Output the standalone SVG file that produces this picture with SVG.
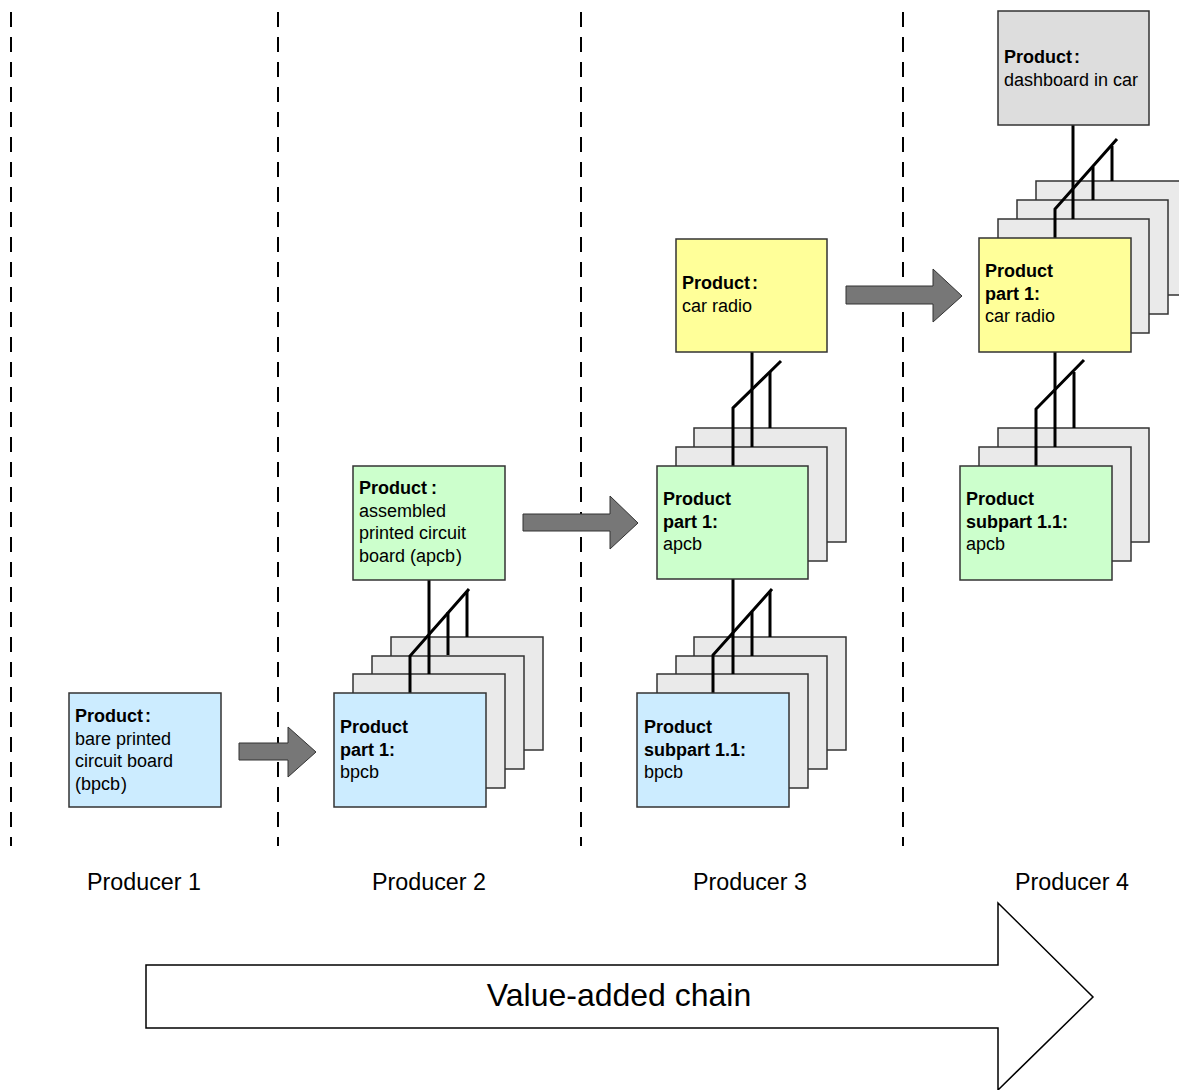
<svg xmlns="http://www.w3.org/2000/svg" width="1179" height="1090" viewBox="0 0 1179 1090">
<style>
text{font-family:"Liberation Sans",Arial,sans-serif;fill:#000}
.t{font-size:18px}
.b{font-weight:bold}
.lab{font-size:23.3px}
.box{stroke:#333;stroke-width:1.5}
.blue{fill:#CCECFF}
.green{fill:#CCFFCC}
.yellow{fill:#FFFF99}
.gray{fill:#DDDDDD}
.back{fill:#EAEAEA}
.sep{stroke:#000;stroke-width:2;stroke-dasharray:15 10;fill:none}
.ln{stroke:#000;stroke-width:3;fill:none;stroke-linejoin:miter}
.arr{fill:#777;stroke:#333;stroke-width:1}
</style>
<rect width="1179" height="1090" fill="#fff"/>
<g id="separators">
<line class="sep" x1="11" y1="12" x2="11" y2="846"/>
<line class="sep" x1="278" y1="12" x2="278" y2="846"/>
<line class="sep" x1="581" y1="12" x2="581" y2="846"/>
<line class="sep" x1="903" y1="12" x2="903" y2="846"/>
</g>
<g id="producer-labels">
<text class="lab" x="144" y="890" text-anchor="middle">Producer 1</text>
<text class="lab" x="429" y="890" text-anchor="middle">Producer 2</text>
<text class="lab" x="750" y="890" text-anchor="middle">Producer 3</text>
<text class="lab" x="1072" y="890" text-anchor="middle">Producer 4</text>
</g>
<g id="value-chain">
<polygon points="146,965 998,965 998,903 1093,997 998,1090 998,1028 146,1028" fill="#fff" stroke="#000" stroke-width="1.5"/>
<text x="619" y="1006" font-size="32" text-anchor="middle">Value-added chain</text>
</g>
<g id="p2-stack-back">
<rect class="box back" x="391" y="637" width="152" height="113"/>
<rect class="box back" x="372" y="656" width="152" height="113"/>
<rect class="box back" x="353" y="674" width="152" height="114"/>
</g>
<g id="p3-upper-stack-back">
<rect class="box back" x="694" y="428" width="152" height="114"/>
<rect class="box back" x="676" y="447" width="151" height="114"/>
</g>
<g id="p3-lower-stack-back">
<rect class="box back" x="694" y="637" width="152" height="113"/>
<rect class="box back" x="676" y="656" width="151" height="113"/>
<rect class="box back" x="657" y="674" width="151" height="114"/>
</g>
<g id="p4-upper-stack-back">
<rect class="box back" x="1036" y="181" width="152" height="114"/>
<rect class="box back" x="1017" y="200" width="151" height="114"/>
<rect class="box back" x="998" y="219" width="151" height="114"/>
</g>
<g id="p4-lower-stack-back">
<rect class="box back" x="998" y="428" width="151" height="114"/>
<rect class="box back" x="979" y="447" width="152" height="114"/>
</g>
<g id="connectors">
<polyline class="ln" points="429,580 429,674"/>
<polyline class="ln" points="410,693 410,656 469,589"/>
<polyline class="ln" points="448,655 448,612"/>
<polyline class="ln" points="467,637 467,591"/>
<polyline class="ln" points="752,352 752,447"/>
<polyline class="ln" points="733,466 733,408 781,361"/>
<polyline class="ln" points="770,428 770,372"/>
<polyline class="ln" points="733,579 733,674"/>
<polyline class="ln" points="713,693 713,655 772,589"/>
<polyline class="ln" points="752,656 752,612"/>
<polyline class="ln" points="770,637 770,591"/>
<polyline class="ln" points="1073,125 1073,219"/>
<polyline class="ln" points="1055,238 1055,209 1117,139"/>
<polyline class="ln" points="1093,200 1093,167"/>
<polyline class="ln" points="1112,181 1112,146"/>
<polyline class="ln" points="1055,352 1055,447"/>
<polyline class="ln" points="1036,466 1036,409 1084,360"/>
<polyline class="ln" points="1074,428 1074,372"/>
<polygon class="arr" points="239,743 288,743 288,727 316,752 288,777 288,760 239,760"/>
<polygon class="arr" points="523,514 610,514 610,496 638,523 610,549 610,531 523,531"/>
<polygon class="arr" points="846,286 933,286 933,269 962,296 933,322 933,304 846,304"/>
</g>
<g id="p1-bpcb">
<rect class="box blue" x="69" y="693" width="152" height="114"/>
<text class="t" x="75" y="722"><tspan class="b">Product<tspan dx="2">:</tspan></tspan><tspan x="75" dy="22.5">bare printed</tspan><tspan x="75" dy="22.5">circuit board</tspan><tspan x="75" dy="22.5">(bpcb<tspan dx="1">)</tspan></tspan></text>
</g>
<g id="p2-apcb">
<rect class="box green" x="353" y="466" width="152" height="114"/>
<text class="t" x="359" y="494"><tspan class="b">Product<tspan dx="4">:</tspan></tspan><tspan x="359" dy="22.5">assembled</tspan><tspan x="359" dy="22.5">printed circuit</tspan><tspan x="359" dy="22.5">board (apcb<tspan dx="1">)</tspan></tspan></text>
</g>
<g id="p2-part1-bpcb">
<rect class="box blue" x="334" y="693" width="152" height="114"/>
<text class="t" x="340" y="733"><tspan class="b">Product</tspan><tspan class="b" x="340" dy="22.5">part 1:</tspan><tspan x="340" dy="22.5">bpcb</tspan></text>
</g>
<g id="p3-car-radio">
<rect class="box yellow" x="676" y="239" width="151" height="113"/>
<text class="t" x="682" y="289"><tspan class="b">Product<tspan dx="2">:</tspan></tspan><tspan x="682" dy="22.5">car radio</tspan></text>
</g>
<g id="p3-part1-apcb">
<rect class="box green" x="657" y="466" width="151" height="113"/>
<text class="t" x="663" y="505"><tspan class="b">Product</tspan><tspan class="b" x="663" dy="22.5">part 1:</tspan><tspan x="663" dy="22.5">apcb</tspan></text>
</g>
<g id="p3-subpart-bpcb">
<rect class="box blue" x="637" y="693" width="152" height="114"/>
<text class="t" x="644" y="733"><tspan class="b">Product</tspan><tspan class="b" x="644" dy="22.5">subpart 1.1:</tspan><tspan x="644" dy="22.5">bpcb</tspan></text>
</g>
<g id="p4-dashboard">
<rect class="box gray" x="998" y="11" width="151" height="114"/>
<text class="t" x="1004" y="63"><tspan class="b">Product<tspan dx="2">:</tspan></tspan><tspan x="1004" dy="22.5">dashboard in car</tspan></text>
</g>
<g id="p4-part1-car-radio">
<rect class="box yellow" x="979" y="238" width="152" height="114"/>
<text class="t" x="985" y="277"><tspan class="b">Product</tspan><tspan class="b" x="985" dy="22.5">part 1:</tspan><tspan x="985" dy="22.5">car radio</tspan></text>
</g>
<g id="p4-subpart-apcb">
<rect class="box green" x="960" y="466" width="152" height="114"/>
<text class="t" x="966" y="505"><tspan class="b">Product</tspan><tspan class="b" x="966" dy="22.5">subpart 1.1:</tspan><tspan x="966" dy="22.5">apcb</tspan></text>
</g>
</svg>
